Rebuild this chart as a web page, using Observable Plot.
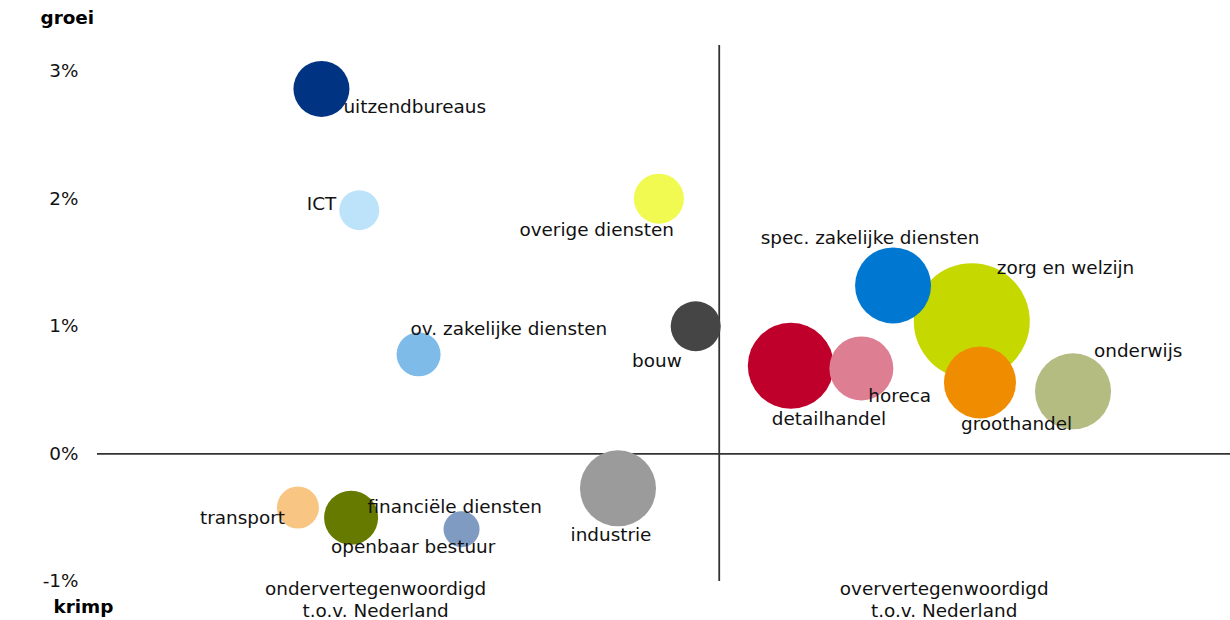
<!DOCTYPE html>
<html>
<head>
<meta charset="utf-8">
<script src="https://cdn.jsdelivr.net/npm/d3@7"></script>
<script src="https://cdn.jsdelivr.net/npm/@observablehq/plot@0.6"></script>
<style>
  html, body { margin: 0; padding: 0; background: #fff; }
  #chart svg { display: block; }
</style>
</head>
<body>
<div id="chart"></div>
<script>
// --- data ---
const sectors = [
  "uitzendbureaus", "ICT", "overige diensten", "ov. zakelijke diensten", "bouw",
  "spec. zakelijke diensten", "zorg en welzijn", "detailhandel", "horeca", "groothandel",
  "onderwijs", "industrie", "transport", "openbaar bestuur", "financiële diensten"
];
// relative share vs. the Netherlands (NL = 100)
const relativeShare = [61.1, 64.8, 94.1, 70.6, 97.7, 117.0, 124.7, 107.0, 113.9, 125.5, 134.6, 90.1, 58.8, 64.0, 74.8];
// employment growth, %
const growth = [2.86, 1.91, 2.00, 0.78, 1.00, 1.32, 1.04, 0.69, 0.67, 0.56, 0.49, -0.27, -0.42, -0.50, -0.59];
// employment (bubble size)
const jobs = [7840, 4000, 6250, 4840, 6250, 14440, 33640, 18490, 10240, 12960, 14440, 14440, 4410, 7290, 3240];
const colors = [
  "#003382", "#bde3fb", "#f0fa50", "#7fbbe8", "#454545",
  "#0077d0", "#c5d900", "#be002a", "#de7e92", "#f08c00",
  "#b4bc82", "#9b9b9b", "#f8c582", "#667a00", "#7f9bc2"
];
const yTicks = [-1, 0, 1, 2, 3];
const quadrantLabels = ["ondervertegenwoordigd\nt.o.v. Nederland", "oververtegenwoordigd\nt.o.v. Nederland"];
const quadrantX = [66.4, 122.0];

// --- label placement (layout only) ---
const labelLayout = [
  {dx: 22, dy: 18, anchor: "start"},
  {dx: -23, dy: -6, anchor: "end"},
  {dx: 15, dy: 31, anchor: "end"},
  {dx: -8, dy: -25, anchor: "start"},
  {dx: -14, dy: 35, anchor: "end"},
  {dx: -23, dy: -47, anchor: "middle"},
  {dx: 25, dy: -53, anchor: "start"},
  {dx: -19, dy: 53, anchor: "start"},
  {dx: 7, dy: 28, anchor: "start"},
  {dx: -19, dy: 42, anchor: "start"},
  {dx: 21, dy: -40, anchor: "start"},
  {dx: -7, dy: 47, anchor: "middle"},
  {dx: -13, dy: 11, anchor: "end"},
  {dx: -20, dy: 29, anchor: "start"},
  {dx: -94, dy: -22, anchor: "start"}
];

const data = sectors.map((s, i) => ({
  sector: s, x: relativeShare[i], y: growth[i], jobs: jobs[i], color: colors[i], layout: labelLayout[i]
}));
const drawOrder = data.slice().sort((a, b) => b.jobs - a.jobs);
const quads = quadrantLabels.map((t, i) => ({text: t, x: quadrantX[i]}));
const FS = 18.4;

const chart = Plot.plot({
  width: 1230,
  height: 620,
  marginLeft: 97,
  marginRight: 0,
  marginTop: 45,
  marginBottom: 39,
  style: {fontFamily: "'DejaVu Sans', Verdana, sans-serif", fontSize: FS + "px", color: "#111", background: "#fff"},
  x: {domain: [39.2, 150], axis: null},
  y: {domain: [-1, 3.2], ticks: yTicks, tickFormat: d => d + "%", tickSize: 0, tickPadding: 19, label: null},
  r: {type: "sqrt", domain: [0, 33640], range: [0, 58]},
  color: {type: "identity"},
  marks: [
    Plot.ruleY([0], {stroke: "#333", strokeWidth: 1.6}),
    Plot.ruleX([100], {stroke: "#333", strokeWidth: 1.8}),
    Plot.dot(drawOrder, {x: "x", y: "y", r: "jobs", fill: "color", stroke: null}),
    ...data.map(d => Plot.text([d], {
      x: "x", y: "y", text: "sector",
      dx: d.layout.dx, dy: d.layout.dy, textAnchor: d.layout.anchor,
      fill: "#111", fontSize: FS
    })),
    Plot.text(quads, {x: "x", y: () => -1, text: "text", dy: 17, lineHeight: 1.2, lineAnchor: "middle", fill: "#111", fontSize: FS}),
    Plot.text(["groei"], {frameAnchor: "top-left", dx: -57, dy: -27, textAnchor: "start", lineAnchor: "middle", fontWeight: "bold", fontSize: FS, fill: "#000"}),
    Plot.text(["krimp"], {frameAnchor: "bottom-left", dx: -44, dy: 26, textAnchor: "start", lineAnchor: "middle", fontWeight: "bold", fontSize: FS, fill: "#000"})
  ]
});
document.getElementById("chart").appendChild(chart);
</script>
</body>
</html>
